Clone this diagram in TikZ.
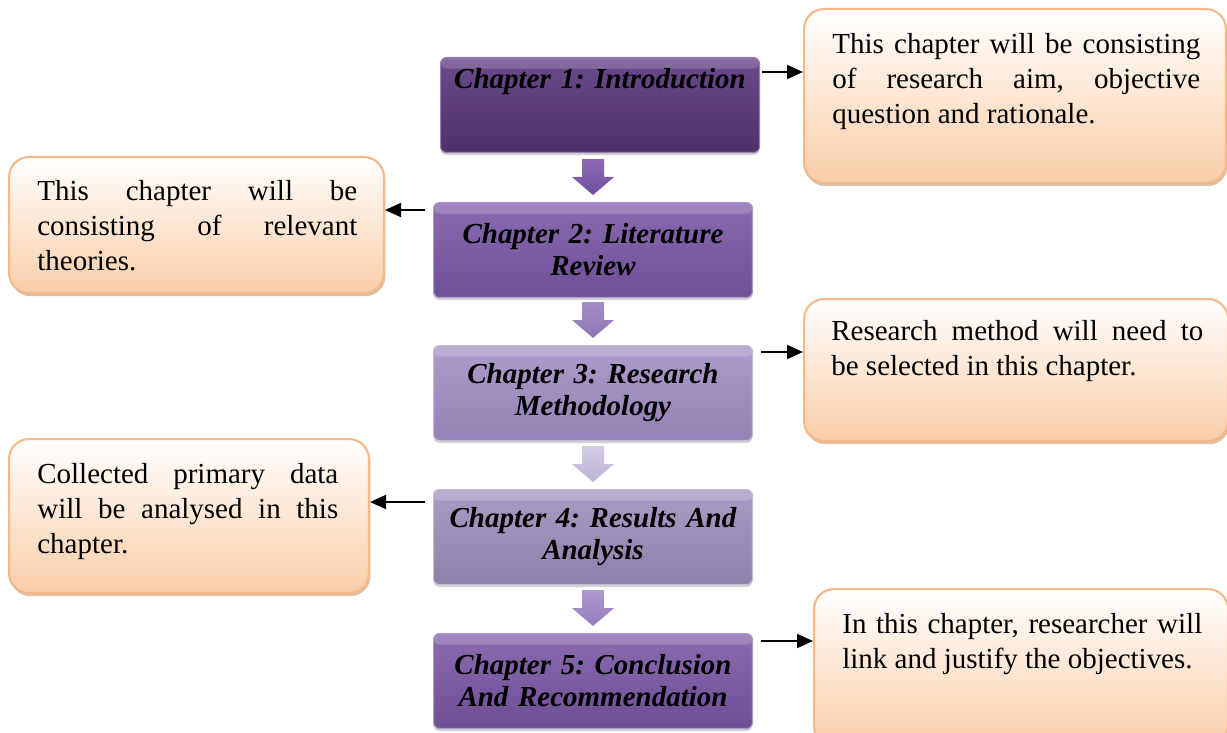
\documentclass[tikz,border=0pt]{standalone}
\usepackage{fontspec}
\setmainfont{Liberation Serif}
\usetikzlibrary{arrows.meta,shadows}
\hyphenpenalty=10000
\frenchspacing

\definecolor{chapAtop}{HTML}{6B4B8C}
\definecolor{chapAbot}{HTML}{4E3069}
\definecolor{chapBtop}{HTML}{8A6BB0}
\definecolor{chapBbot}{HTML}{6E4F96}
\definecolor{chapCtop}{HTML}{AE9CCB}
\definecolor{chapCbot}{HTML}{9481B5}
\definecolor{chapDtop}{HTML}{A99DC4}
\definecolor{chapDbot}{HTML}{8D80AA}
\definecolor{chapEtop}{HTML}{8B6CB1}
\definecolor{chapEbot}{HTML}{6D4D94}
\definecolor{arrAtop}{HTML}{8D6BB8}
\definecolor{arrAbot}{HTML}{6F4E9A}
\definecolor{arrBtop}{HTML}{A48DC6}
\definecolor{arrBbot}{HTML}{8E76B5}
\definecolor{arrCtop}{HTML}{D5CCE4}
\definecolor{arrCbot}{HTML}{BFB2D5}
\definecolor{arrDtop}{HTML}{AD98CF}
\definecolor{arrDbot}{HTML}{957DBD}
\definecolor{noteline}{HTML}{F7B887}
\definecolor{notebot}{HTML}{F9CDA8}
\definecolor{noteshadow}{HTML}{C8956C}

\tikzset{
  chapbox/.style n args={2}{anchor=north west, rounded corners=0.12cm,
    top color=#1, bottom color=#2, draw=#1!70!white, line width=0.6pt,
    minimum width=6.38cm, minimum height=1.9cm, text width=6cm, align=center,
    font=\fontsize{16.5}{18.2}\selectfont\bfseries\itshape,
    drop shadow={shadow xshift=0pt, shadow yshift=-1.5pt, opacity=.35},
    path picture={\fill[white, opacity=.18] (path picture bounding box.north west)
      rectangle ([yshift=-0.22cm]path picture bounding box.north east);}},
  notebox/.style={anchor=north west, rounded corners=0.4cm, draw=noteline,
    line width=1.2pt, top color=white, bottom color=notebot,
    drop shadow={shadow xshift=0.8pt, shadow yshift=-1.8pt, fill=noteshadow, opacity=.6}},
  notetext/.style={anchor=north west, inner sep=0pt, align=justify,
    font=\fontsize{16.5}{20}\selectfont},
  link/.style={-{Triangle[length=0.32cm,width=0.28cm]}, line width=1.1pt}
}

\begin{document}
\begin{tikzpicture}[x=0.02cm,y=-0.02cm]
  \useasboundingbox (0,0) rectangle (1227,733);

  % chapters
  \node[chapbox={chapAtop}{chapAbot}, text depth=1.05cm] (c1) at (440,57) {Chapter 1: Introduction};
  \node[chapbox={chapBtop}{chapBbot}] (c2) at (433,202) {Chapter 2: Literature\\ Review};
  \node[chapbox={chapCtop}{chapCbot}] (c3) at (433,345) {Chapter 3: Research\\ Methodology};
  \node[chapbox={chapDtop}{chapDbot}] (c4) at (433,489) {Chapter 4: Results And\\ Analysis};
  \node[chapbox={chapEtop}{chapEbot}] (c5) at (433,633) {Chapter 5: Conclusion\\ And Recommendation};

  % block arrows between chapters
  \foreach \nx/\ca/\cb in {c2/arrAtop/arrAbot, c3/arrBtop/arrBbot, c4/arrCtop/arrCbot, c5/arrDtop/arrDbot}
    \shade[top color=\ca, bottom color=\cb] ([shift={(-11,-43)}]\nx.north) -- ([shift={(11,-43)}]\nx.north)
      -- ([shift={(11,-25)}]\nx.north) -- ([shift={(21,-25)}]\nx.north) -- ([shift={(0,-7)}]\nx.north)
      -- ([shift={(-21,-25)}]\nx.north) -- ([shift={(-11,-25)}]\nx.north) -- cycle;

  % notes
  \node[notebox, minimum width=8.44cm, minimum height=3.48cm] (r1) at (803,8) {};
  \node[notebox, minimum width=7.5cm, minimum height=2.72cm] (l1) at (8,156) {};
  \node[notebox, minimum width=8.48cm, minimum height=2.84cm] (r2) at (803,298) {};
  \node[notebox, minimum width=7.2cm, minimum height=3.08cm] (l2) at (8,438) {};
  \node[notebox, minimum width=8.28cm, minimum height=3.14cm] (r3) at (813,588) {};

  \node[notetext, text width=7.36cm] (r1t) at ([shift={(29,25)}]r1.north west)
    {This chapter will be consisting\linebreak of research aim, objective\linebreak question and rationale.};
  \node[notetext, text width=6.4cm] (l1t) at ([shift={(29,24)}]l1.north west)
    {This chapter will be\linebreak consisting of relevant\linebreak theories.};
  \node[notetext, text width=7.44cm] (r2t) at ([shift={(28,22)}]r2.north west)
    {Research method will need to\linebreak be selected in this chapter.};
  \node[notetext, text width=6.02cm] (l2t) at ([shift={(29,25)}]l2.north west)
    {Collected primary data\linebreak will be analysed in this\linebreak chapter.};
  \node[notetext, text width=7.2cm] (r3t) at ([shift={(29,25)}]r3.north west)
    {In this chapter, researcher will\linebreak link and justify the objectives.};

  % links to notes
  \draw[link] ([shift={(2,15)}]c1.north east) coordinate (t1) -- (t1 -| r1.west);
  \draw[link] ([shift={(-8,8)}]c2.north west) coordinate (t2) -- (t2 -| l1.east);
  \draw[link] ([shift={(8,7)}]c3.north east) coordinate (t3) -- (t3 -| r2.west);
  \draw[link] ([shift={(-8,13)}]c4.north west) coordinate (t4) -- (t4 -| l2.east);
  \draw[link] ([shift={(8,8)}]c5.north east) coordinate (t5) -- (t5 -| r3.west);
\end{tikzpicture}
\end{document}
